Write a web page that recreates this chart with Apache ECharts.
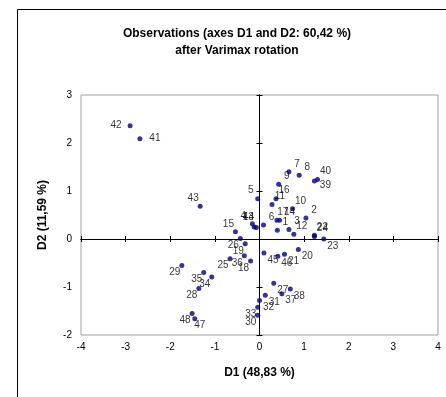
<!DOCTYPE html>
<html>
<head>
<meta charset="utf-8">
<script src="https://cdn.jsdelivr.net/npm/echarts@6/dist/echarts.min.js"></script>
<style>
  html, body { margin: 0; padding: 0; background: #fff; }
  #chart { width: 446px; height: 397px; }
</style>
</head>
<body>
<div id="chart"></div>
<script>
// observation scores after varimax rotation
const obsNames = [
  '1', '2', '3', '4', '5', '6', '7', '8', '9', '10', '11', '12',
  '13', '14', '15', '16', '17', '18', '19', '20', '21', '22', '23', '24',
  '25', '26', '27', '28', '29', '30', '31', '32', '33', '34', '35', '36',
  '37', '38', '39', '40', '41', '42', '43', '44', '45', '46', '47', '48',
];
const d1Scores = [
  0.40, 1.04, 0.66, -0.16, -0.04, 0.09, 0.66, 0.89, 0.43, 0.74, 0.28, 0.77,
  -0.12, 0.45, -0.54, 0.37, 0.39, -0.20, -0.32, 0.87, 0.56, 1.23, 1.44, 1.23,
  -0.66, -0.43, 0.32, -1.36, -1.74, -0.04, 0.13, 0.00, -0.04, -1.07, -1.25, -0.34,
  0.50, 0.69, 1.23, 1.30, -2.68, -2.90, -1.33, -0.07, 0.10, 0.41, -1.45, -1.51,
];
const d2Scores = [
  0.18, 0.44, 0.20, 0.32, 0.84, 0.29, 1.40, 1.33, 1.14, 0.63, 0.72, 0.10,
  0.25, 0.39, 0.15, 0.84, 0.39, -0.46, -0.10, -0.22, -0.32, 0.08, 0.00, 0.05,
  -0.41, 0.01, -0.92, -1.03, -0.55, -1.59, -1.17, -1.28, -1.42, -0.79, -0.70, -0.35,
  -1.14, -1.04, 1.21, 1.24, 2.09, 2.36, 0.68, 0.24, -0.29, -0.36, -1.66, -1.55,
];
const xTicks = [-4, -3, -2, -1, 0, 1, 2, 3, 4];
const yTicks = [-2, -1, 0, 1, 2, 3];

// where each label sits around its point
const labelSide = {
  ur: [8, -8], lr: [9, 7], ll: [-7, 7], ul: [-7, -8], l: [-14, 0], r: [15, 0],
};
const labelPlace = {
  '1': 'ur', '2': 'ur', '3': 'ur', '4': 'ul', '5': 'ul', '6': 'ur', '7': 'ur', '8': 'ur',
  '9': 'ur', '10': 'ur', '11': 'ur', '12': 'ur', '13': 'ul', '14': 'ur', '15': 'ul', '16': 'ur',
  '17': 'ur', '18': 'll', '19': 'll', '20': 'lr', '21': 'lr', '22': 'ur', '23': 'lr', '24': 'ur',
  '25': 'll', '26': 'll', '27': 'lr', '28': 'll', '29': 'll', '30': 'll', '31': 'lr', '32': 'lr',
  '33': 'll', '34': 'll', '35': 'll', '36': 'll', '37': 'lr', '38': 'lr', '39': 'lr', '40': 'ur',
  '41': 'r', '42': 'l', '43': 'ul', '44': 'ul', '45': 'lr', '46': 'lr', '47': 'lr', '48': 'll',
};
// a few labels pushed by hand where they pile up
const labelNudge = {
  '17': [6, -8], '14': [10, -8], '13': [-6, -10], '4': [-9, -7], '44': [-8, -10],
  '39': [11, 4], '47': [5, 7],
};

const FONT = "'Liberation Sans', Arial, sans-serif";
const DOT = 5;

const points = obsNames.map((n, i) => {
  const off = labelNudge[n] || labelSide[labelPlace[n]];
  return {
    name: n,
    value: [d1Scores[i], d2Scores[i]],
    // position is measured from the symbol's top-left corner
    label: { position: [DOT / 2 + off[0], DOT / 2 + off[1]], align: 'center', verticalAlign: 'middle' },
  };
});

const xRange = { type: 'value', min: xTicks[0], max: xTicks[xTicks.length - 1], interval: 1 };
const yRange = { type: 'value', min: yTicks[0], max: yTicks[yTicks.length - 1], interval: 1 };

// axis through the origin, drawn twice so the ticks cross the line
function zeroAxis(range, pos, inside) {
  return {
    ...range,
    position: pos,
    axisLine: { show: true, onZero: true, onZeroAxisIndex: 0, lineStyle: { color: '#000', width: 1 } },
    axisTick: { show: true, inside: inside, length: 3, lineStyle: { color: '#000', width: 1 } },
    axisLabel: { show: false },
    splitLine: { show: false },
  };
}

const chart = echarts.init(document.getElementById('chart'), null, { renderer: 'canvas' });

chart.setOption({
  animation: false,
  backgroundColor: '#fff',
  textStyle: { fontFamily: FONT },
  title: {
    text: 'Observations (axes D1 and D2: 60,42 %)\nafter Varimax rotation',
    left: 237,
    top: 25,
    padding: 0,
    textAlign: 'center',
    textStyle: { fontSize: 12, fontWeight: 'bold', lineHeight: 17, color: '#000', fontFamily: FONT },
  },
  graphic: [
    {
      type: 'rect',
      shape: { x: 17.5, y: 9.5, width: 600, height: 600 },
      style: { fill: 'none', stroke: '#000', lineWidth: 1 },
      silent: true,
      z: -10,
    },
  ],
  grid: {
    left: 81, right: 8, top: 95, bottom: 62,
    show: true,
    borderColor: '#a0a0a0',
    borderWidth: 1,
    backgroundColor: '#fff',
  },
  xAxis: [
    {
      ...xRange,
      position: 'bottom',
      axisLine: { show: false, onZero: false },
      axisTick: { show: false },
      splitLine: { show: false },
      axisLabel: { color: '#000', fontSize: 10, margin: 7, fontFamily: FONT },
      name: 'D1 (48,83 %)',
      nameLocation: 'middle',
      nameGap: 32,
      nameTextStyle: { color: '#000', fontSize: 12, fontWeight: 'bold', fontFamily: FONT },
    },
    zeroAxis(xRange, 'top', false),
    zeroAxis(xRange, 'top', true),
  ],
  yAxis: [
    {
      ...yRange,
      position: 'left',
      axisLine: { show: false, onZero: false },
      axisTick: { show: false },
      splitLine: { show: false },
      axisLabel: { color: '#000', fontSize: 10, margin: 9, fontFamily: FONT },
      name: 'D2 (11,59 %)',
      nameLocation: 'middle',
      nameGap: 32,
      nameTextStyle: { color: '#000', fontSize: 12, fontWeight: 'bold', fontFamily: FONT },
    },
    zeroAxis(yRange, 'right', false),
    zeroAxis(yRange, 'right', true),
  ],
  series: [
    {
      type: 'scatter',
      xAxisIndex: 0,
      yAxisIndex: 0,
      symbol: 'circle',
      symbolSize: DOT,
      itemStyle: { color: '#000080' },
      label: {
        show: true,
        formatter: '{b}',
        color: '#000',
        fontSize: 10,
        fontFamily: FONT,
      },
      labelLayout: { hideOverlap: false },
      data: points,
      z: 5,
    },
  ],
});
</script>
</body>
</html>
